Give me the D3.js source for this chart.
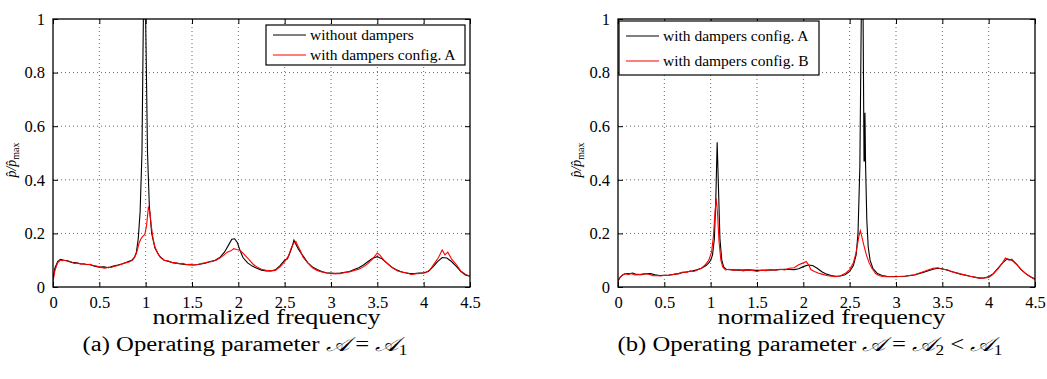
<!DOCTYPE html>
<html>
<head>
<meta charset="utf-8">
<script src="https://cdn.jsdelivr.net/npm/d3@7"></script>
<style>
  body { margin: 0; background: #fff; }
  svg { display: block; }
  text { font-family: "Liberation Serif", "DejaVu Serif", serif; fill: #000; }
  .grid line { stroke: #444; stroke-width: 0.8; stroke-dasharray: 1,3; }
  .curve { fill: none; stroke-width: 1.1; }
</style>
</head>
<body>
<div id="container"></div>
<script>
// ---------------- data ----------------
const freqTicks = [0, 0.5, 1, 1.5, 2, 2.5, 3, 3.5, 4, 4.5]
const ampTicks = [0, 0.2, 0.4, 0.6, 0.8, 1]

// panel (a): [normalized frequency, p/pmax]
const withoutDampers = [[0,0.03],[0.02,0.07],[0.05,0.095],[0.08,0.103],[0.12,0.1],[0.16,0.098],[0.2,0.092],[0.25,0.09],[0.3,0.087],[0.35,0.085],[0.4,0.083],[0.45,0.078],[0.5,0.074],[0.55,0.075],[0.6,0.072],[0.65,0.078],[0.7,0.082],[0.75,0.087],[0.8,0.093],[0.85,0.1],[0.88,0.11],[0.9,0.13],[0.92,0.18],[0.94,0.28],[0.96,0.5],[0.975,1.0],[1.0,1.0],[1.02,0.5],[1.04,0.3],[1.065,0.2],[1.1,0.145],[1.15,0.115],[1.2,0.1],[1.25,0.095],[1.3,0.09],[1.35,0.088],[1.4,0.085],[1.45,0.083],[1.5,0.082],[1.55,0.083],[1.6,0.086],[1.65,0.09],[1.7,0.095],[1.75,0.1],[1.8,0.11],[1.85,0.13],[1.9,0.16],[1.93,0.178],[1.96,0.18],[1.99,0.165],[2.02,0.135],[2.05,0.11],[2.1,0.09],[2.15,0.078],[2.2,0.07],[2.25,0.063],[2.3,0.06],[2.35,0.06],[2.4,0.064],[2.45,0.08],[2.5,0.1],[2.53,0.105],[2.56,0.13],[2.58,0.15],[2.6,0.175],[2.62,0.16],[2.65,0.14],[2.7,0.115],[2.75,0.09],[2.8,0.075],[2.85,0.065],[2.9,0.058],[2.95,0.053],[3.0,0.052],[3.05,0.05],[3.1,0.052],[3.15,0.055],[3.2,0.058],[3.25,0.065],[3.3,0.072],[3.35,0.082],[3.4,0.095],[3.45,0.107],[3.5,0.113],[3.55,0.105],[3.6,0.09],[3.65,0.075],[3.7,0.065],[3.75,0.058],[3.8,0.053],[3.85,0.05],[3.9,0.05],[3.95,0.052],[4.0,0.053],[4.05,0.058],[4.1,0.075],[4.15,0.095],[4.2,0.11],[4.25,0.108],[4.3,0.095],[4.35,0.078],[4.4,0.058],[4.45,0.045],[4.5,0.04]]

const configA_a = [[0,0.02],[0.02,0.06],[0.05,0.09],[0.08,0.1],[0.1,0.098],[0.13,0.1],[0.16,0.095],[0.2,0.093],[0.23,0.088],[0.26,0.09],[0.3,0.085],[0.33,0.087],[0.36,0.083],[0.4,0.085],[0.43,0.08],[0.47,0.078],[0.5,0.075],[0.53,0.072],[0.56,0.07],[0.6,0.074],[0.63,0.073],[0.67,0.078],[0.7,0.08],[0.74,0.085],[0.78,0.09],[0.82,0.093],[0.86,0.1],[0.9,0.125],[0.93,0.165],[0.95,0.18],[0.97,0.19],[0.99,0.195],[1.01,0.23],[1.03,0.3],[1.045,0.28],[1.06,0.23],[1.08,0.18],[1.1,0.15],[1.13,0.125],[1.16,0.11],[1.2,0.1],[1.24,0.098],[1.28,0.092],[1.32,0.09],[1.36,0.087],[1.4,0.088],[1.44,0.084],[1.48,0.085],[1.52,0.082],[1.56,0.084],[1.6,0.088],[1.64,0.09],[1.68,0.093],[1.72,0.095],[1.76,0.1],[1.8,0.108],[1.84,0.118],[1.88,0.13],[1.92,0.135],[1.95,0.143],[1.98,0.14],[2.01,0.138],[2.04,0.13],[2.08,0.115],[2.12,0.1],[2.16,0.085],[2.2,0.075],[2.25,0.066],[2.3,0.062],[2.35,0.06],[2.4,0.062],[2.45,0.075],[2.5,0.095],[2.54,0.115],[2.57,0.145],[2.6,0.165],[2.62,0.17],[2.64,0.155],[2.67,0.135],[2.7,0.11],[2.75,0.09],[2.8,0.072],[2.85,0.062],[2.9,0.056],[2.95,0.052],[3.0,0.05],[3.05,0.051],[3.1,0.05],[3.15,0.054],[3.2,0.056],[3.25,0.062],[3.3,0.066],[3.35,0.075],[3.4,0.088],[3.45,0.105],[3.5,0.127],[3.53,0.118],[3.57,0.1],[3.62,0.085],[3.67,0.07],[3.72,0.06],[3.77,0.055],[3.82,0.052],[3.87,0.047],[3.92,0.05],[3.97,0.051],[4.02,0.053],[4.07,0.065],[4.12,0.09],[4.16,0.11],[4.2,0.138],[4.23,0.12],[4.26,0.13],[4.3,0.105],[4.35,0.085],[4.4,0.06],[4.45,0.048],[4.5,0.04]]

// panel (b)
const configA_b = [[0,0.022],[0.02,0.035],[0.05,0.045],[0.08,0.05],[0.12,0.049],[0.16,0.052],[0.2,0.047],[0.25,0.046],[0.3,0.05],[0.35,0.05],[0.4,0.046],[0.45,0.043],[0.5,0.044],[0.55,0.045],[0.6,0.047],[0.65,0.05],[0.7,0.054],[0.75,0.057],[0.8,0.06],[0.85,0.064],[0.9,0.07],[0.95,0.08],[0.98,0.09],[1.0,0.1],[1.02,0.12],[1.04,0.18],[1.055,0.32],[1.07,0.54],[1.085,0.36],[1.1,0.18],[1.12,0.1],[1.14,0.075],[1.17,0.066],[1.2,0.065],[1.3,0.063],[1.4,0.064],[1.5,0.062],[1.6,0.063],[1.7,0.064],[1.8,0.066],[1.9,0.065],[1.95,0.068],[2.0,0.076],[2.05,0.082],[2.1,0.08],[2.15,0.07],[2.2,0.057],[2.25,0.048],[2.3,0.043],[2.35,0.04],[2.4,0.041],[2.45,0.046],[2.5,0.058],[2.54,0.08],[2.57,0.12],[2.59,0.2],[2.61,0.45],[2.625,1.0],[2.645,1.0],[2.655,0.47],[2.66,0.47],[2.665,0.65],[2.672,0.45],[2.685,0.25],[2.7,0.15],[2.72,0.1],[2.75,0.07],[2.8,0.05],[2.85,0.043],[2.9,0.04],[3.0,0.039],[3.1,0.04],[3.2,0.045],[3.3,0.055],[3.4,0.066],[3.45,0.07],[3.5,0.068],[3.6,0.058],[3.7,0.048],[3.8,0.04],[3.9,0.033],[3.95,0.034],[4.0,0.038],[4.05,0.05],[4.1,0.07],[4.15,0.09],[4.2,0.105],[4.25,0.1],[4.3,0.085],[4.35,0.065],[4.4,0.05],[4.45,0.038],[4.5,0.03]]

const configB_b = [[0,0.02],[0.02,0.035],[0.05,0.045],[0.08,0.05],[0.11,0.046],[0.14,0.05],[0.18,0.045],[0.22,0.046],[0.26,0.048],[0.3,0.05],[0.34,0.047],[0.38,0.042],[0.42,0.043],[0.46,0.041],[0.5,0.044],[0.54,0.043],[0.58,0.046],[0.62,0.048],[0.66,0.05],[0.7,0.056],[0.74,0.054],[0.78,0.06],[0.82,0.058],[0.86,0.064],[0.9,0.07],[0.94,0.082],[0.98,0.1],[1.01,0.13],[1.03,0.19],[1.045,0.27],[1.06,0.33],[1.075,0.27],[1.09,0.17],[1.11,0.1],[1.13,0.075],[1.16,0.064],[1.2,0.066],[1.25,0.062],[1.3,0.065],[1.35,0.06],[1.4,0.064],[1.45,0.062],[1.5,0.058],[1.55,0.063],[1.6,0.061],[1.65,0.065],[1.7,0.063],[1.75,0.066],[1.8,0.064],[1.85,0.07],[1.9,0.072],[1.95,0.083],[2.0,0.09],[2.03,0.095],[2.06,0.082],[2.08,0.065],[2.12,0.058],[2.16,0.052],[2.2,0.048],[2.25,0.043],[2.3,0.04],[2.35,0.038],[2.4,0.042],[2.45,0.05],[2.5,0.065],[2.54,0.09],[2.57,0.13],[2.6,0.19],[2.615,0.21],[2.63,0.19],[2.65,0.16],[2.68,0.12],[2.71,0.09],[2.74,0.07],[2.78,0.05],[2.82,0.042],[2.86,0.039],[2.9,0.038],[3.0,0.038],[3.1,0.041],[3.2,0.046],[3.3,0.058],[3.4,0.07],[3.45,0.072],[3.5,0.066],[3.55,0.065],[3.6,0.057],[3.7,0.048],[3.8,0.04],[3.9,0.033],[3.95,0.034],[4.0,0.036],[4.05,0.048],[4.1,0.068],[4.15,0.09],[4.18,0.108],[4.22,0.1],[4.25,0.104],[4.3,0.085],[4.35,0.066],[4.4,0.05],[4.45,0.038],[4.5,0.028]]

const legendA = ["without dampers", "with dampers config. A"]
const legendB = ["with dampers config. A", "with dampers config. B"]
const colors = ["#000", "#f00"]

// ---------------- layout ----------------
const width = 1047, height = 379
const panels = [
    { left: 53, right: 470, series: [withoutDampers, configA_a], labels: legendA,
      legend: { x: 266, y: 25, w: 199, h: 40, rowY: [35, 55] },
      caption: { cx: 245, len: 325, parts: ["(a) Operating parameter ", "𝒜", " = ", "𝒜", "1"] } },
    { left: 618, right: 1035, series: [configA_b, configB_b], labels: legendB,
      legend: { x: 619, y: 21, w: 200, h: 54, rowY: [36, 61] },
      caption: { cx: 810, len: 385, parts: ["(b) Operating parameter ", "𝒜", " = ", "𝒜", "2", " < ", "𝒜", "1"] } }
]
const plotTop = 19, plotBottom = 287

const svg = d3.select("#container").append("svg")
    .attr("width", width)
    .attr("height", height)

panels.forEach((p, i) => drawPanel(p, i))

function drawPanel(p, i) {
    const x = d3.scaleLinear().domain([0, 4.5]).range([p.left, p.right])
    const y = d3.scaleLinear().domain([0, 1]).range([plotBottom, plotTop])
    const g = svg.append("g")

    g.append("clipPath").attr("id", "clip" + i)
        .append("rect")
        .attr("x", p.left).attr("y", plotTop)
        .attr("width", p.right - p.left).attr("height", plotBottom - plotTop)

    // dotted grid
    const grid = g.append("g").attr("class", "grid")
    grid.selectAll(".gx").data(freqTicks.slice(1, -1)).enter().append("line")
        .attr("x1", d => x(d)).attr("x2", d => x(d))
        .attr("y1", plotTop).attr("y2", plotBottom)
    grid.selectAll(".gy").data(ampTicks.slice(1, -1)).enter().append("line")
        .attr("y1", d => y(d)).attr("y2", d => y(d))
        .attr("x1", p.left).attr("x2", p.right)

    // curves
    const line = d3.line().x(d => x(d[0])).y(d => y(d[1]))
    g.append("g").attr("clip-path", `url(#clip${i})`)
        .selectAll("path").data(p.series).enter().append("path")
        .attr("class", "curve")
        .attr("stroke", (d, k) => colors[k])
        .attr("d", line)

    // axes with inward ticks on all four sides
    const tl = 5
    g.append("g").attr("transform", `translate(0,${plotBottom})`)
        .call(d3.axisBottom(x).tickValues(freqTicks).tickSizeInner(-tl).tickSizeOuter(0).tickPadding(9).tickFormat(d3.format("")))
    g.append("g").attr("transform", `translate(0,${plotTop})`)
        .call(d3.axisTop(x).tickValues(freqTicks).tickSizeInner(-tl).tickSizeOuter(0).tickFormat(""))
    g.append("g").attr("transform", `translate(${p.left},0)`)
        .call(d3.axisLeft(y).tickValues(ampTicks).tickSizeInner(-tl).tickSizeOuter(0).tickPadding(8).tickFormat(d3.format("")))
    g.append("g").attr("transform", `translate(${p.right},0)`)
        .call(d3.axisRight(y).tickValues(ampTicks).tickSizeInner(-tl).tickSizeOuter(0).tickFormat(""))
    g.selectAll(".domain").remove()
    g.selectAll(".tick line").attr("stroke", "#000")
    g.selectAll("g").attr("font-family", '"Liberation Serif", serif')
    g.selectAll(".tick text").style("font-size", "16.5px").style("font-family", '"Liberation Serif", serif')

    g.append("rect")
        .attr("x", p.left).attr("y", plotTop)
        .attr("width", p.right - p.left).attr("height", plotBottom - plotTop)
        .attr("fill", "none").attr("stroke", "#000").attr("stroke-width", 1.3)

    // y label
    const yl = g.append("text")
        .attr("transform", `translate(${p.left - 37},${(plotTop + plotBottom) / 2 + 7}) rotate(-90)`)
        .attr("text-anchor", "middle")
        .style("font-size", "14px")
    yl.append("tspan").style("font-style", "italic").text("p\u0302/p\u0302")
    yl.append("tspan").attr("dy", 3).style("font-size", "10px").text("max")

    // x label
    g.append("text")
        .attr("x", (p.left + p.right) / 2 + 5).attr("y", 324)
        .attr("text-anchor", "middle")
        .attr("textLength", 228).attr("lengthAdjust", "spacingAndGlyphs")
        .style("font-size", "22px")
        .text("normalized frequency")

    // legend
    const L = p.legend
    const lg = g.append("g")
    lg.append("rect")
        .attr("x", L.x).attr("y", L.y).attr("width", L.w).attr("height", L.h)
        .attr("fill", "#fff").attr("stroke", "#000").attr("stroke-width", 1.2)
    p.labels.forEach((t, k) => {
        lg.append("line")
            .attr("x1", L.x + 7).attr("x2", L.x + 40)
            .attr("y1", L.rowY[k]).attr("y2", L.rowY[k])
            .attr("stroke", colors[k]).attr("stroke-width", 1.1)
        lg.append("text")
            .attr("x", L.x + 44).attr("y", L.rowY[k] + 5)
            .style("font-size", "15.5px")
            .text(t)
    })

    // caption: plain text, italic script A, subscripts
    const c = p.caption
    const cap = g.append("text")
        .attr("x", c.cx - c.len / 2).attr("y", 351)
        .attr("textLength", c.len).attr("lengthAdjust", "spacingAndGlyphs")
        .style("font-size", "20px")
    let sub = false
    c.parts.forEach(t => {
        const ts = cap.append("tspan").text(t)
        if (t === "𝒜") ts.style("font-style", "italic")
        const isSub = /^[12]$/.test(t)
        if (isSub) ts.style("font-size", "14px")
        if (isSub !== sub) ts.attr("dy", isSub ? 4 : -4)
        sub = isSub
    })
}
</script>
</body>
</html>
